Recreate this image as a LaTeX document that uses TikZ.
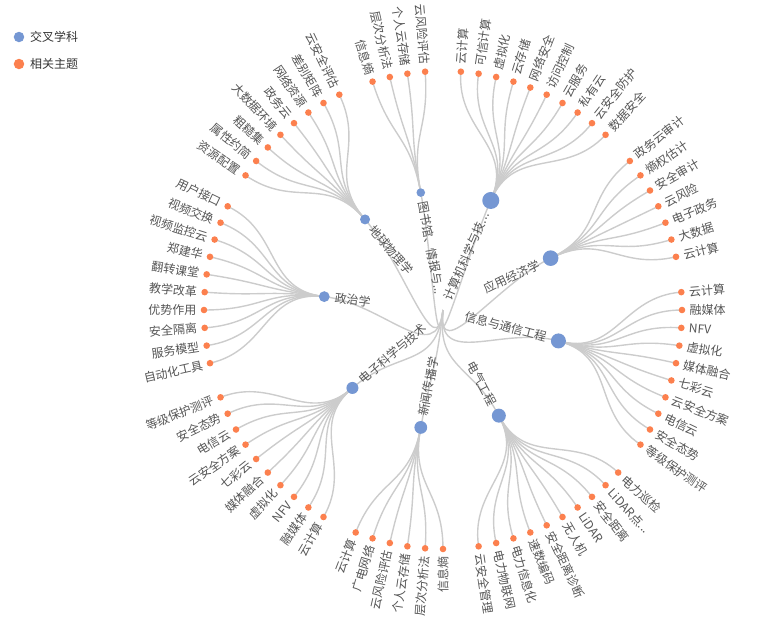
\documentclass[tikz,border=0pt]{standalone}
\usepackage{fontspec}
\setmainfont{Noto Sans CJK SC}
\usetikzlibrary{backgrounds}
\definecolor{bluenode}{RGB}{117,151,211}
\definecolor{orangenode}{RGB}{252,128,78}
\definecolor{edgegray}{RGB}{204,204,204}
\definecolor{labgray}{RGB}{85,85,85}
\definecolor{legtext}{RGB}{51,51,51}
\tikzset{
  edge/.style={draw=edgegray, line width=1.4pt},
  leafdot/.style={circle, fill=orangenode, inner sep=0pt, minimum size=6.6pt},
  subjdot/.style={circle, fill=bluenode, inner sep=0pt},
  lab/.style={inner sep=0pt, text=labgray, font=\fontsize{12}{14}\selectfont},
}
\newcommand\tdots{.{}.{}.}
\newcommand\Rm{119.5}
\newcommand\Rl{239}
\newcommand\rootang{-96.43}
\newcommand\subject[6]{%
  \pgfmathsetmacro\midang{90-(#2+(#3-1)/2)*30/7}
  \node[subjdot, minimum size=#4*2pt] (#1) at (\midang:\Rm) {};
  \begin{pgfonlayer}{background}
    \draw[edge] (root.center) .. controls (\rootang:\Rm/2) and (\midang:\Rm/2) .. (#1.center);
  \end{pgfonlayer}
  \pgfmathsetmacro\labr{\Rm-#4-5}
  \pgfmathtruncatemacro\isright{((#2+(#3-1)/2)*30/7<180)?1:0}
  \ifnum\isright=1
    \node[lab, anchor=east, rotate=\midang] (#1-t) at (\midang:\labr) {#5};
  \else
    \node[lab, anchor=west, rotate=\midang+180] (#1-t) at (\midang:\labr) {#5};
  \fi
  \foreach \txt [count=\i from 0] in {#6} {
    \pgfmathsetmacro\thetaang{(#2+\i)*30/7}
    \pgfmathsetmacro\la{90-\thetaang}
    \node[leafdot] (#1-\i) at (\la:\Rl) {};
    \begin{pgfonlayer}{background}
      \draw[edge] (#1.center) .. controls (\midang:1.5*\Rm) and (\la:1.5*\Rm) .. (#1-\i.center);
    \end{pgfonlayer}
    \pgfmathtruncatemacro\leafright{(\thetaang<180)?1:0}
    \ifnum\leafright=1
      \node[lab, anchor=west, rotate=\la] (#1-\i-t) at (\la:\Rl+7.5) {\txt};
    \else
      \node[lab, anchor=east, rotate=\la+180] (#1-\i-t) at (\la:\Rl+7.5) {\txt};
    \fi
  }
}
\begin{document}
\begin{tikzpicture}[x=1pt,y=1pt]
\useasboundingbox (-443,-312) rectangle (323,310);
\coordinate (root) at (0,0);
\subject{g1}{1}{10}{8.5}{计算机科学与技\tdots}{云计算,可信计算,虚拟化,云存储,网络安全,访问控制,云服务,私有云,云安全防护,数据安全}
\subject{g2}{12}{7}{7.8}{应用经济学}{政务云审计,熵权估计,安全审计,云风险,电子政务,大数据,云计算}
\subject{g3}{20}{10}{7.5}{信息与通信工程}{云计算,融媒体,NFV,虚拟化,媒体融合,七彩云,云安全方案,电信云,安全态势,等级保护测评}
\subject{g4}{31}{10}{7}{电气工程}{电力巡检,{LiDAR点\tdots},安全距离,LiDAR,无人机,安全距离诊断,速数编码,电力信息化,电力物联网,云安全管理}
\subject{g5}{42}{6}{6.4}{新闻传播学}{信息熵,层次分析法,个人云存储,云风险评估,广电网络,云计算}
\subject{g6}{49}{10}{6}{电子科学与技术}{云计算,融媒体,NFV,虚拟化,媒体融合,七彩云,云安全方案,电信云,安全态势,等级保护测评}
\subject{g7}{60}{10}{5.4}{政治学}{自动化工具,服务模型,安全隔离,优势作用,教学改革,翻转课堂,郑建华,视频监控云,视频交换,用户接口}
\subject{g8}{71}{8}{5}{地球物理学}{资源配置,属性约简,粗糙集,大数据环境,政务云,网络资源,差别矩阵,云安全评估}
\subject{g9}{80}{4}{4.3}{图书馆、情报与\tdots}{信息熵,层次分析法,个人云存储,云风险评估}
% legend
\node[subjdot, minimum size=10.5pt] (lg1) at (-424,273) {};
\node[lab, text=legtext, anchor=west] (lg1t) at (-413,273) {交叉学科};
\node[leafdot, minimum size=10.5pt] (lg2) at (-424,246) {};
\node[lab, text=legtext, anchor=west] (lg2t) at (-413,246) {相关主题};
\end{tikzpicture}
\end{document}
